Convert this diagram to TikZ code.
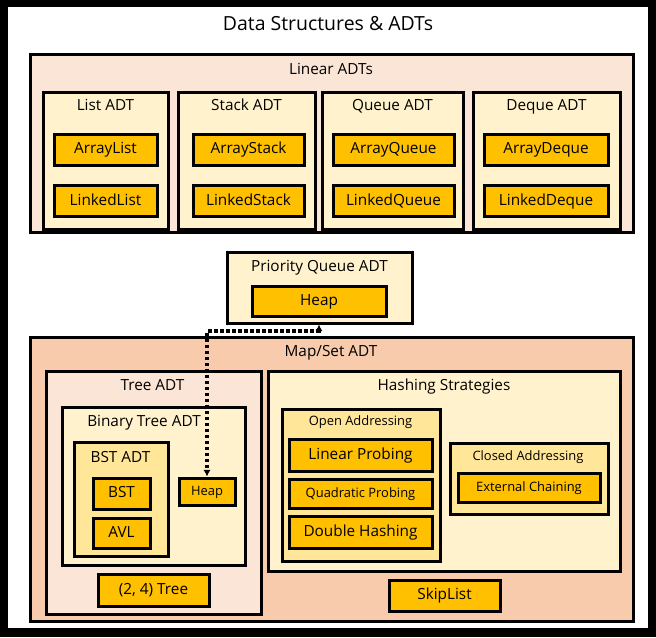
\documentclass[tikz,border=0pt]{standalone}
\usepackage{fontspec}
\setmainfont{Open Sans}
\usetikzlibrary{arrows.meta,calc,positioning}
\newlength\pw
\setlength\pw{0.75pt}
\definecolor{pinkbg}{HTML}{FBE5D6}
\definecolor{peachbg}{HTML}{F8CBAD}
\definecolor{creambg}{HTML}{FFF2CC}
\definecolor{goldbg}{HTML}{FFE699}
\definecolor{implbg}{HTML}{FFC000}
\tikzset{
    x=0.75pt, y=-0.75pt,
    box/.style ={rectangle, draw, line width=2.25pt, inner sep=0pt},
    sz/.style 2 args={minimum width=#1\pw, minimum height=#2\pw},
    outer/.style ={box, fill=pinkbg},
    group/.style ={box, fill=creambg},
    sub/.style ={box, fill=goldbg},
    impl/.style ={box, fill=implbg, font=\fontsize{11.5}{13}\selectfont,
        text height=8.3pt, text depth=1.6pt},
    smallimpl/.style ={impl, font=\fontsize{9.7}{11}\selectfont,
        text height=7pt, text depth=1.4pt},
    title/.style ={inner sep=0pt, font=\fontsize{11.5}{13}\selectfont,
        text height=8.3pt, text depth=1.6pt},
    smalltitle/.style ={title, font=\fontsize{9.7}{11}\selectfont,
        text height=7pt, text depth=1.4pt},
    link/.style ={{Latex[length=5pt,width=5.5pt]}-{Latex[length=5pt,width=5.5pt]},
        line width=2.4pt, dash pattern=on 2.4pt off 2.1pt}
}
\begin{document}
\begin{tikzpicture}
    \useasboundingbox (0,0) rectangle (656,637);
    \fill[black] (0,0) rectangle (656,637);
    \fill[white] (8,7) rectangle (648,628);
    \node[inner sep=0pt, font=\fontsize{14.6}{17}\selectfont,
        text height=10.5pt, text depth=2pt] (main) at (328,25) {Data Structures \& ADTs};

    % linear ADTs
    \node[outer, sz={603}{178}] (linear) at (332,143) {};
    \node[title] (linearT) at (331,70) {Linear ADTs};
    \node[group, sz={125}{137}] (list) at (105.5,160.5) {};
    \node[group, sz={137}{137}] (stack) at (246.5,160.5) {};
    \node[group, sz={141}{137}] (queue) at (392.5,160.5) {};
    \node[group, sz={147}{137}] (deque) at (546.5,160.5) {};
    \node[title] (listT) at (105.5,106) {List ADT};
    \node[title] (stackT) at (246.5,106) {Stack ADT};
    \node[title] (queueT) at (392.5,106) {Queue ADT};
    \node[title] (dequeT) at (546.5,106) {Deque ADT};
    \node[impl, sz={103}{31}] (alist) at (105.5,149.5) {ArrayList};
    \node[impl, sz={103}{31}] (llist) at (105.5,201) {LinkedList};
    \node[impl, sz={111}{31}] (astack) at (248.5,149.5) {ArrayStack};
    \node[impl, sz={111}{31}] (lstack) at (248.5,201) {LinkedStack};
    \node[impl, sz={121}{31}] (aqueue) at (393.5,149.5) {ArrayQueue};
    \node[impl, sz={121}{31}] (lqueue) at (393.5,201) {LinkedQueue};
    \node[impl, sz={124}{31}] (adeque) at (546,149.5) {ArrayDeque};
    \node[impl, sz={124}{31}] (ldeque) at (546,201) {LinkedDeque};

    % priority queue
    \node[group, sz={185}{71}] (pq) at (319.5,287.5) {};
    \node[title] (pqT) at (319.5,267) {Priority Queue ADT};
    \node[impl, sz={134}{30}] (pqheap) at (319,301) {Heap};

    % map / set
    \node[box, fill=peachbg, sz={603}{284}] (mapset) at (332,479.5) {};
    \node[title] (mapsetT) at (331,352) {Map/Set ADT};
    \node[outer, sz={215}{243}] (tree) at (153.5,492.5) {};
    \node[title] (treeT) at (152.5,386) {Tree ADT};
    \node[group, sz={183}{158}] (bintree) at (153.5,486) {};
    \node[title] (bintreeT) at (144,422) {Binary Tree ADT};
    \node[sub, sz={94}{114}] (bstadt) at (121,499) {};
    \node[title] (bstadtT) at (120.5,458) {BST ADT};
    \node[impl, sz={57}{31}] (bst) at (121.5,493.5) {BST};
    \node[impl, sz={57}{30}] (avl) at (121.5,533) {AVL};
    \node[smallimpl, sz={56}{27}] (theap) at (207,491.5) {Heap};
    \node[impl, sz={111}{32}] (tree24) at (153.5,590) {(2, 4) Tree};

    \node[group, sz={352}{200}] (hashing) at (444,471) {};
    \node[title] (hashingT) at (444,386) {Hashing Strategies};
    \node[sub, sz={158}{152}] (open) at (361,485) {};
    \node[smalltitle] (openT) at (360.5,422) {Open Addressing};
    \node[impl, sz={143}{32}] (linprob) at (360.5,455) {Linear Probing};
    \node[smallimpl, sz={143}{29}] (quadprob) at (360.5,493.5) {Quadratic Probing};
    \node[impl, sz={143}{32}] (dblhash) at (360.5,532) {Double Hashing};
    \node[sub, sz={158}{71}] (closed) at (529,478.5) {};
    \node[smalltitle] (closedT) at (528,457) {Closed Addressing};
    \node[smallimpl, sz={142}{29}] (extchain) at (529,487.5) {External Chaining};
    \node[impl, sz={111}{31}] (skiplist) at (444.5,595.5) {SkipList};

    \coordinate (pqfoot) at (pq.south -| pqheap.south);
    \draw[link] (pqfoot) -- ++(0,6.5) -| (theap.north);
\end{tikzpicture}
\end{document}
